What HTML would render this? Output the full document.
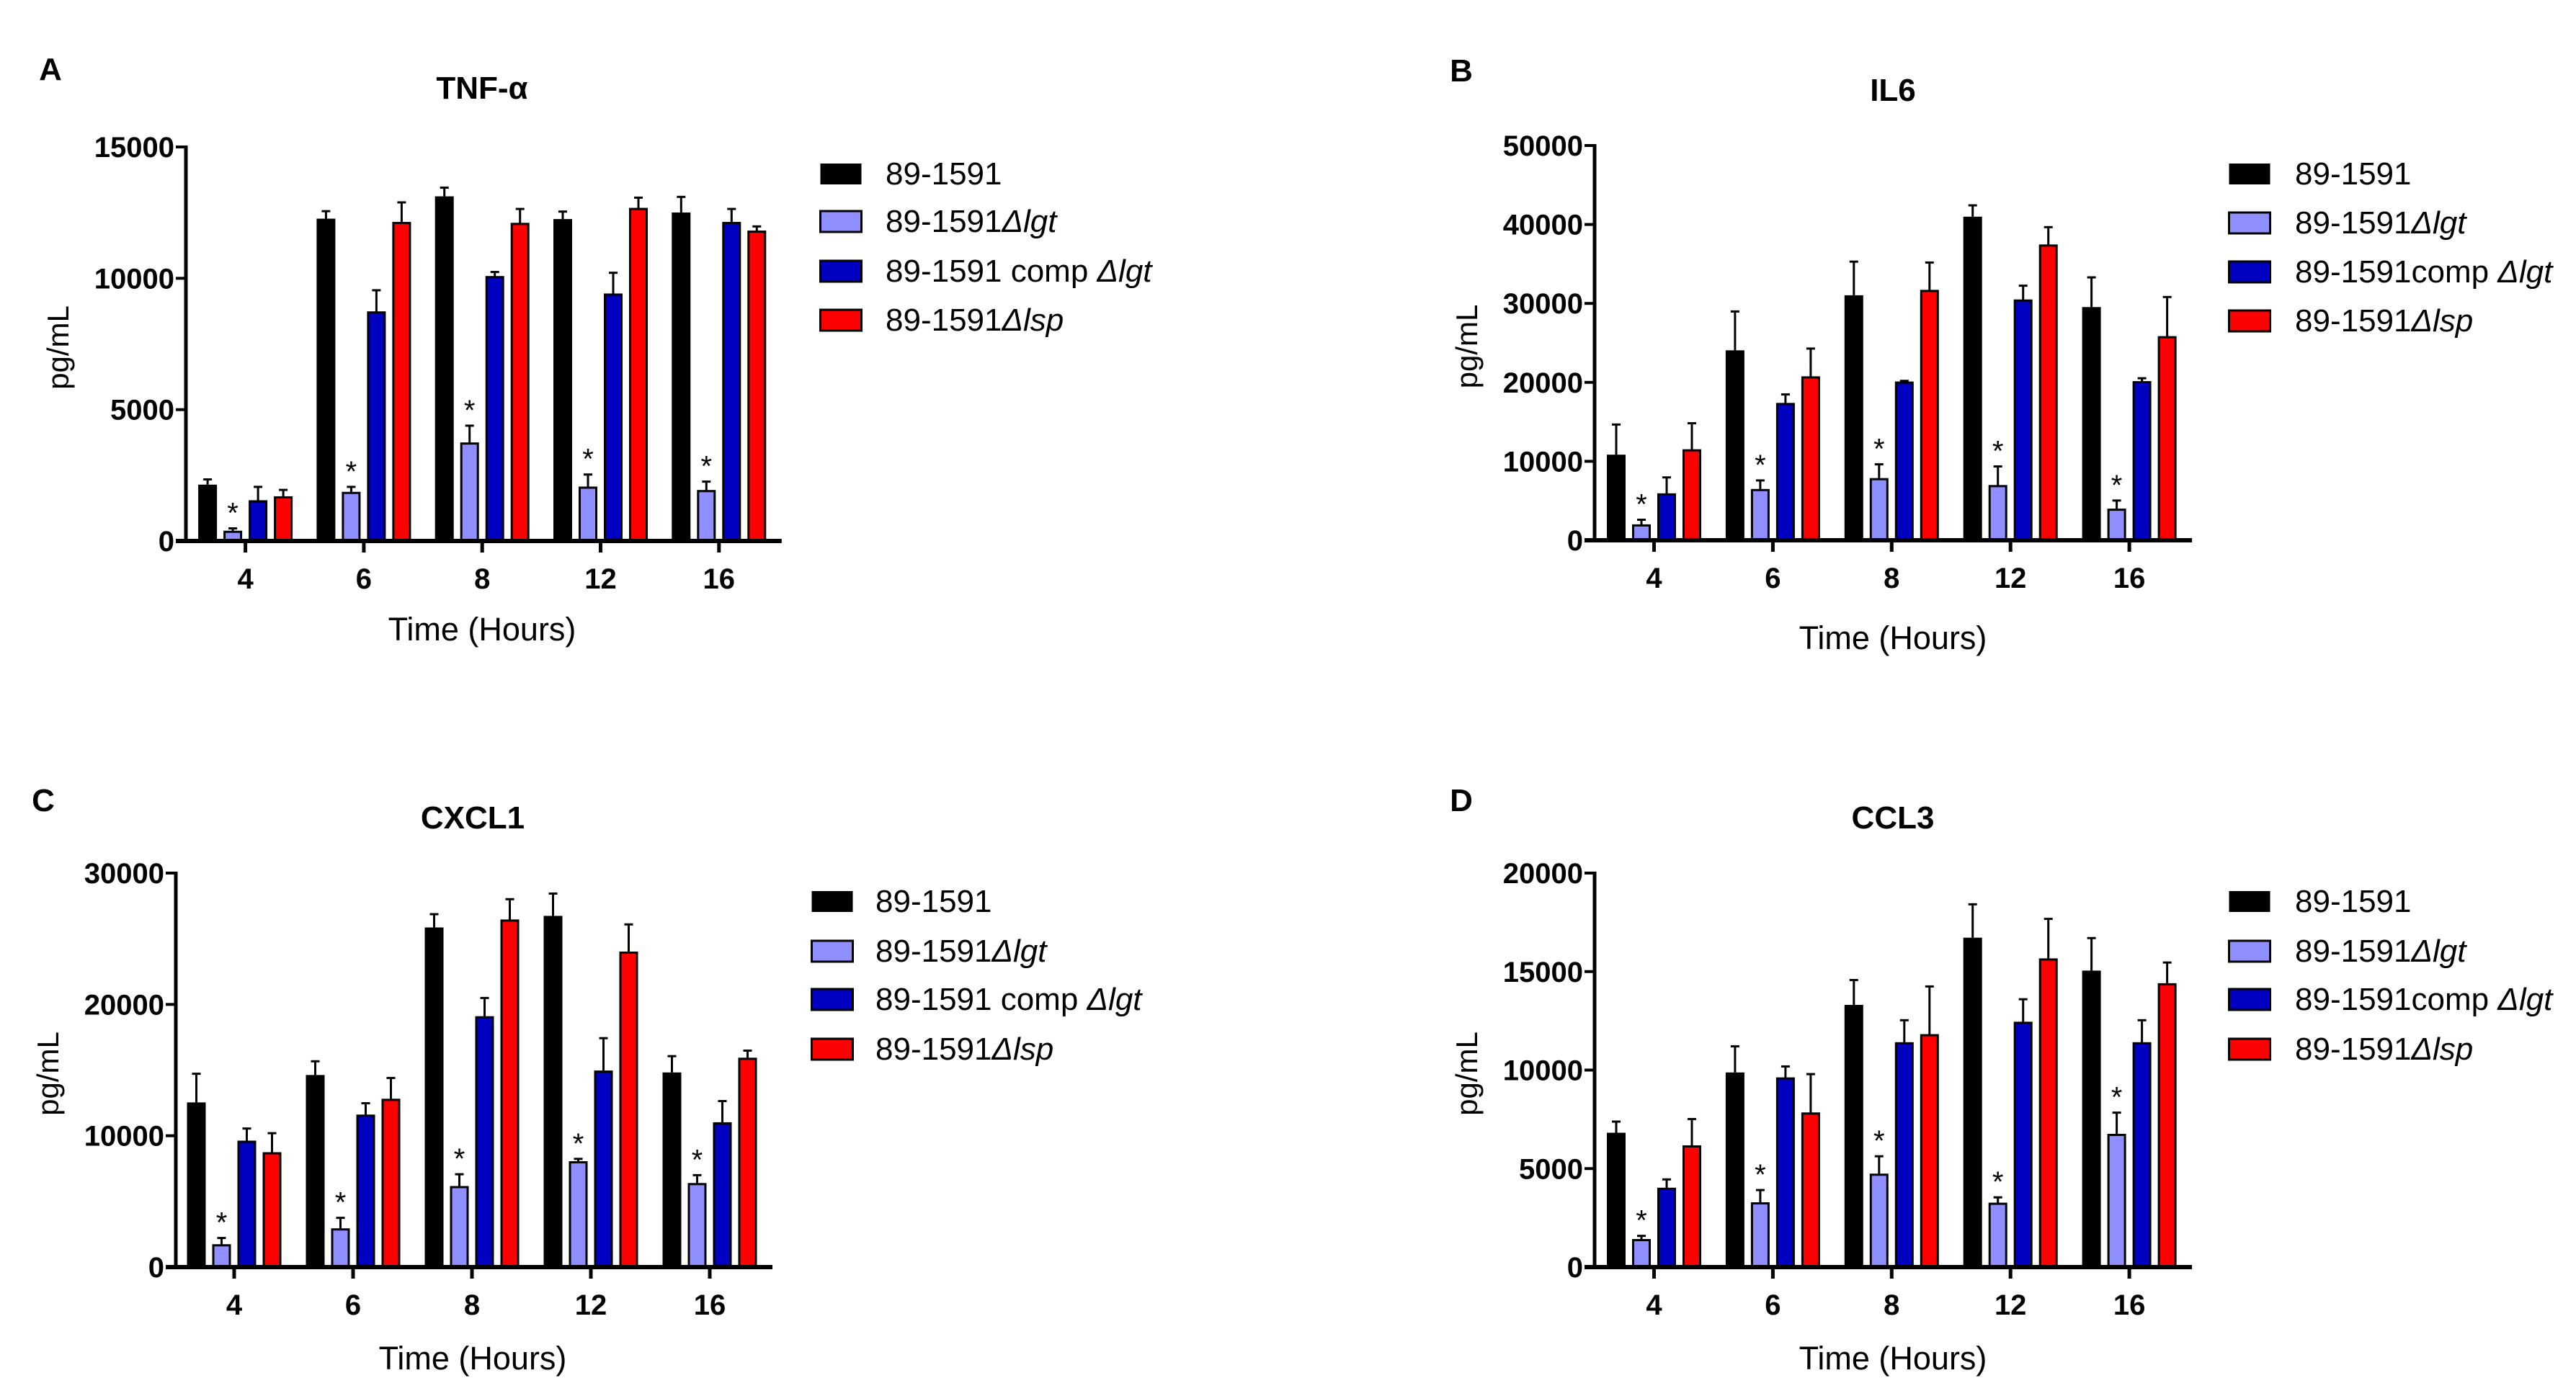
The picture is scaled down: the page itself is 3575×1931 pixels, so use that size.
<!DOCTYPE html>
<html><head><meta charset="utf-8"><style>
html,body{margin:0;padding:0;background:#fff;}
svg{display:block;font-family:"Liberation Sans",Arial,sans-serif;}
</style></head><body>
<svg id="fig" width="3575" height="1931" viewBox="0 0 3575 1931" xmlns="http://www.w3.org/2000/svg"></svg>
<script>
const categories = ["4","6","8","12","16"];
const seriesNames = ["89-1591","89-1591\u0394lgt","89-1591 comp \u0394lgt","89-1591\u0394lsp"];
const seriesColors = ["#000000","#8f8fff","#0000c0","#ff0000"];
// TNF-alpha
const tnfMean = [[2145,12270,13120,12255,12505],[350,1830,3710,2030,1900],[1510,8700,10045,9380,12105],[1660,12105,12070,12640,11775]];
const tnfErr  = [[2345,12555,13450,12540,13100],[480,2060,4390,2530,2260],[2060,9545,10240,10210,12640],[1945,12890,12640,13070,11975]];
const tnfTicks = [0,5000,10000,15000];
// IL6
const il6Mean = [[10840,24060,31030,40985,29535],[1880,6360,7740,6860,3870],[5810,17260,19970,30365,20020],[11390,20630,31580,37330,25720]];
const il6Err  = [[14660,28980,35290,42420,33300],[2600,7580,9620,9350,5030],[7960,18470,20190,32245,20520],[14820,24280,35180,39660,30810]];
const il6Ticks = [0,10000,20000,30000,40000,50000];
// CXCL1
const cxcMean = [[12540,14625,25860,26740,14820],[1660,2870,6090,7980,6320],[9545,11530,19020,14885,10945],[8665,12735,26385,23940,15860]];
const cxcErr  = [[14720,15670,26870,28440,16060],[2215,3750,7070,8240,7000],[10550,12475,20490,17430,12640],[10195,14400,28010,26090,16480]];
const cxcTicks = [0,10000,20000,30000];
// CCL3
const cclMean = [[6820,9880,13310,16720,15050],[1370,3235,4690,3215,6710],[3975,9575,11360,12400,11360],[6125,7795,11770,15615,14355]];
const cclErr  = [[7385,11205,14570,18415,16700],[1585,3910,5625,3540,7840],[4450,10185,12530,13595,12530],[7515,9795,14245,17675,15460]];
const cclTicks = [0,5000,10000,15000,20000];
const starSeries = 1;

const NS="http://www.w3.org/2000/svg";
const svg=document.getElementById('fig');
function mk(tag,attrs,parent){const e=document.createElementNS(NS,tag);for(const k in attrs)e.setAttribute(k,attrs[k]);(parent||svg).appendChild(e);return e;}

const panels=[
 {key:'a',letter:'A',title:'TNF-\u03b1',mean:tnfMean,err:tnfErr,ticks:tnfTicks,ax:258,yTop:204,yZero:751,t0:340.6,dt:164.3,legSw:1137,legTx:1229,legY:[241,307,376,444],letterX:70,letterY:111,titleX:669,titleY:137,xTitleY:889,comp:true},
 {key:'b',letter:'B',title:'IL6',mean:il6Mean,err:il6Err,ticks:il6Ticks,ax:2213,yTop:202,yZero:750,t0:2295.5,dt:164.9,legSw:3092,legTx:3185,legY:[241,309,377,445],letterX:2028,letterY:113,titleX:2627,titleY:140,xTitleY:901,comp:false},
 {key:'c',letter:'C',title:'CXCL1',mean:cxcMean,err:cxcErr,ticks:cxcTicks,ax:244,yTop:1212,yZero:1759,t0:325,dt:165,legSw:1125,legTx:1215,legY:[1251,1320,1387,1456],letterX:60,letterY:1126,titleX:656,titleY:1150,xTitleY:1901,comp:true},
 {key:'d',letter:'D',title:'CCL3',mean:cclMean,err:cclErr,ticks:cclTicks,ax:2213,yTop:1212,yZero:1759,t0:2295.5,dt:164.9,legSw:3092,legTx:3185,legY:[1251,1320,1387,1456],letterX:2028,letterY:1126,titleX:2627,titleY:1150,xTitleY:1901,comp:false}
];

panels.forEach(p=>{
 const g=mk('g',{});
 
 
 const maxV=p.ticks[p.ticks.length-1];
 const y=v=>p.yZero-(v/maxV)*(p.yZero-p.yTop);
 const xc=i=>p.t0+i*p.dt;
 const lastX=xc(categories.length-1);
 const L=mk('text',{x:p.letterX,y:p.letterY,'font-size':44,'font-weight':'bold','text-anchor':'middle'},g);L.textContent=p.letter;
 
 
 const T=mk('text',{x:p.titleX,y:p.titleY,'font-size':44,'font-weight':'bold','text-anchor':'middle'},g);T.textContent=p.title;
 
 
 const offs=[-52.5,-17.5,17.5,52.5];
 p.mean.forEach((ser,s)=>{
  ser.forEach((v,i)=>{
   const cx=xc(i)+offs[s];
   const top=y(v);
   const e=y(p.err[s][i]);
   const el=mk('line',{x1:cx,x2:cx,y1:top,y2:e,stroke:'#000','stroke-width':3},g);
   
   
   const cap=mk('line',{x1:cx-6,x2:cx+6,y1:e,y2:e,stroke:'#000','stroke-width':3},g);
   
   
   const r=mk('rect',{x:cx-11.5,y:top,width:23,height:p.yZero-top,fill:seriesColors[s],stroke:'#000','stroke-width':s===0?0:3},g);
   if(s===0){r.setAttribute('x',cx-13);r.setAttribute('width',26);}
   
   
   if(s===starSeries){
    const st=mk('text',{x:cx,y:e-8,'font-size':40,'text-anchor':'middle'},g);st.textContent='*';
    
    
   }
  });
 });
 const ya=mk('line',{x1:p.ax,x2:p.ax,y1:p.yTop-2,y2:p.yZero+2,stroke:'#000','stroke-width':5},g);
 
 
 const xa=mk('line',{x1:p.ax-14,x2:lastX+87,y1:p.yZero,y2:p.yZero,stroke:'#000','stroke-width':6},g);
 
 
 p.ticks.forEach(t=>{
  const ty=y(t);
  const tk=mk('line',{x1:p.ax-14,x2:p.ax,y1:ty,y2:ty,stroke:'#000','stroke-width':4},g);
  
  
  const tl=mk('text',{x:p.ax-16,y:ty+14,'font-size':40,'font-weight':'bold','text-anchor':'end'},g);tl.textContent=t;
  
  
 });
 categories.forEach((c,i)=>{
  const tk=mk('line',{x1:xc(i),x2:xc(i),y1:p.yZero,y2:p.yZero+16,stroke:'#000','stroke-width':5},g);
  
  
  const tl=mk('text',{x:xc(i),y:p.yZero+66,'font-size':40,'font-weight':'bold','text-anchor':'middle'},g);tl.textContent=c;
  
  
 });
 const xt=mk('text',{x:p.titleX,y:p.xTitleY,'font-size':45,'text-anchor':'middle'},g);xt.textContent='Time (Hours)';
 
 
 const ycy=(p.yTop+p.yZero)/2+5;
 const ytx=p.ax-163;
 const yt=mk('text',{x:ytx,y:ycy,'font-size':42,'text-anchor':'middle',transform:'rotate(-90 '+ytx+' '+ycy+')'},g);yt.textContent='pg/mL';
 
 
 const labels=[['89-1591',''],['89-1591','\u0394lgt'],[p.comp?'89-1591 comp ':'89-1591comp ','\u0394lgt'],['89-1591','\u0394lsp']];
 labels.forEach((lb,s)=>{
  const ly=p.legY[s];
  const le=mk('g',{},g);
  
  
  const sw=mk('rect',{x:p.legSw+1.5,y:ly-14,width:57,height:29,fill:seriesColors[s],stroke:'#000','stroke-width':s===0?0:3},le);
  
  
  const tx=mk('text',{x:p.legTx,y:ly+15,'font-size':44},le);
  
  
  const a=mk('tspan',{},tx);a.textContent=lb[0];
  if(lb[1]){const b=mk('tspan',{'font-style':'italic'},tx);b.textContent=lb[1];}
 });
});
</script>
</body></html>
